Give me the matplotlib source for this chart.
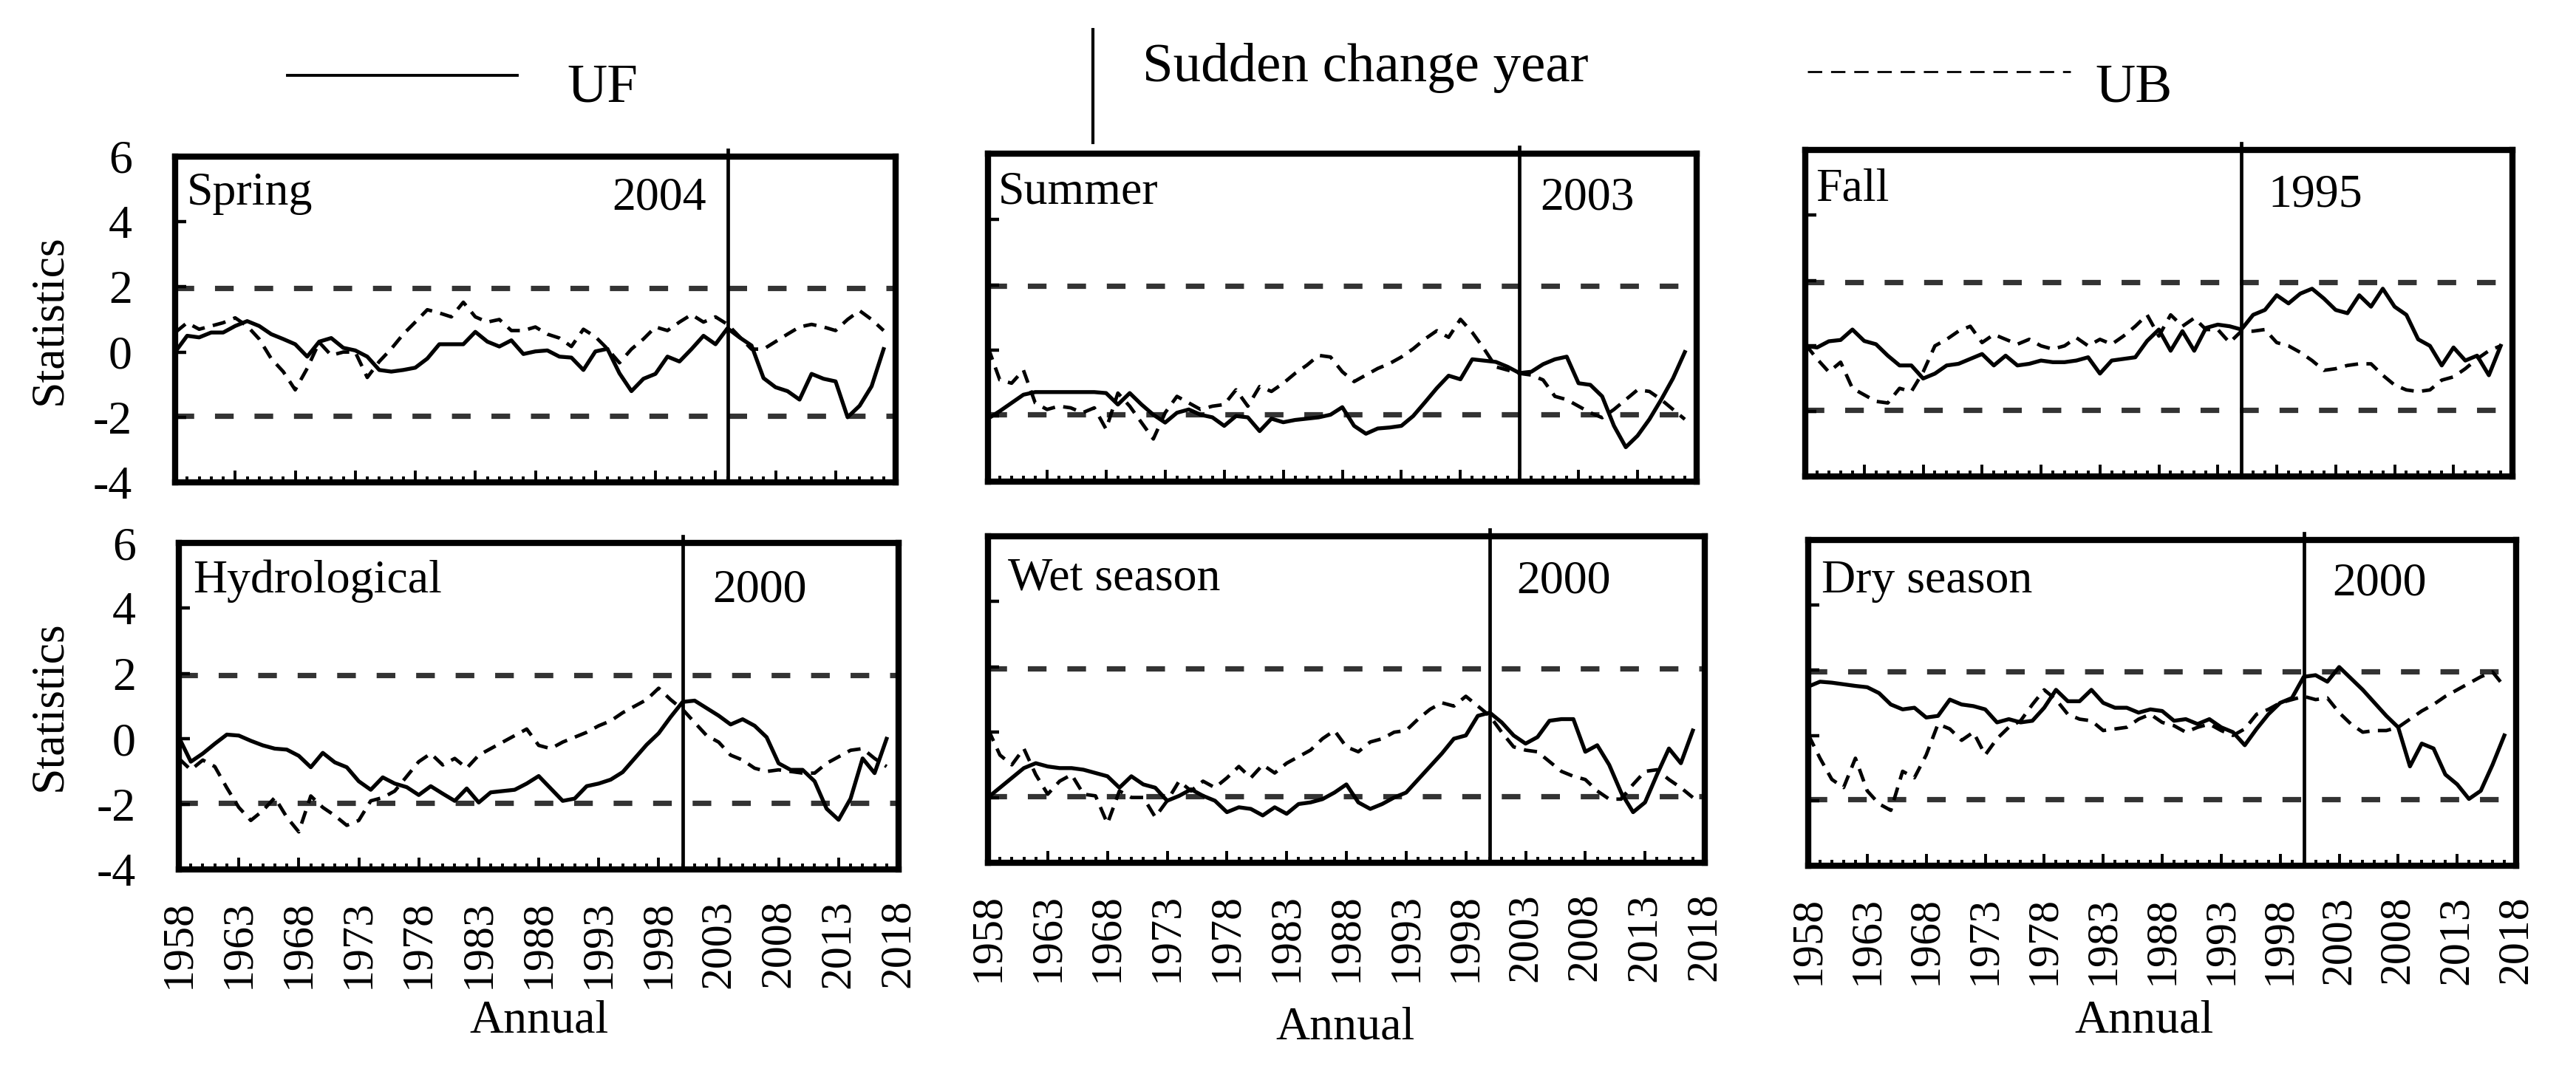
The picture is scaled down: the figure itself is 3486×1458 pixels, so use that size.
import matplotlib
matplotlib.use("Agg")
import matplotlib.pyplot as plt
from matplotlib.lines import Line2D

plt.rcParams["font.family"] = ["Liberation Serif", "DejaVu Serif"]
plt.rcParams["axes.unicode_minus"] = False

W, H = 3487, 1458
DPI = 200

years = list(range(1958, 2018))

spring_uf = [0.0, 0.5, 0.45, 0.6, 0.6, 0.8, 0.95, 0.8, 0.55, 0.4,
             0.24, -0.14, 0.32, 0.43, 0.13, 0.05, -0.14, -0.55, -0.6, -0.55,
             -0.48, -0.2, 0.24, 0.24, 0.24, 0.62, 0.32, 0.17, 0.36, -0.06,
             0.02, 0.05, -0.14, -0.17, -0.55, 0.02, 0.1, -0.65, -1.2, -0.82,
             -0.67, -0.14, -0.29, 0.09, 0.5, 0.24, 0.73, 0.45, 0.2, -0.8,
             -1.08, -1.2, -1.46, -0.67, -0.82, -0.9, -2.0, -1.65, -1.05, 0.09]
spring_ub = [0.6, 0.9, 0.7, 0.8, 0.9, 1.05, 0.8, 0.4, -0.2, -0.6,
             -1.16, -0.5, 0.3, -0.1, 0.0, 0.0, -0.78, -0.29, 0.1, 0.55,
             0.92, 1.3, 1.2, 1.08, 1.53, 1.08, 0.92, 1.0, 0.66, 0.66,
             0.77, 0.55, 0.43, 0.17, 0.7, 0.47, 0.1, -0.33, 0.09, 0.4,
             0.77, 0.66, 0.92, 1.15, 0.92, 1.08, 0.85, 0.47, 0.09, 0.09,
             0.32, 0.55, 0.77, 0.85, 0.77, 0.66, 1.0, 1.27, 1.0, 0.66]

summer_uf = [-2.08, -1.85, -1.6, -1.35, -1.27, -1.27, -1.27, -1.27, -1.27, -1.27,
             -1.3, -1.65, -1.3, -1.65, -1.96, -2.2, -1.9, -1.8, -1.96, -2.04,
             -2.3, -2.0, -2.04, -2.46, -2.08, -2.19, -2.12, -2.08, -2.04, -1.96,
             -1.73, -2.3, -2.54, -2.38, -2.35, -2.3, -2.0, -1.58, -1.15, -0.77,
             -0.88, -0.27, -0.31, -0.35, -0.5, -0.69, -0.65, -0.42, -0.27, -0.19,
             -1.0, -1.05, -1.4, -2.3, -2.95, -2.6, -2.1, -1.5, -0.85, -0.05]
summer_ub = [0.1, -0.9, -1.0, -0.6, -1.6, -1.8, -1.7, -1.75, -1.9, -1.75,
             -2.4, -1.3, -1.7, -2.2, -2.7, -1.9, -1.4, -1.6, -1.8, -1.7,
             -1.65, -1.2, -1.7, -1.1, -1.25, -1.0, -0.7, -0.45, -0.15, -0.2,
             -0.65, -0.95, -0.75, -0.55, -0.4, -0.2, 0.05, 0.35, 0.6, 0.4,
             0.95, 0.55, 0.05, -0.5, -0.6, -0.7, -0.75, -0.9, -1.4, -1.5,
             -1.7, -1.9, -2.05, -1.8, -1.5, -1.2, -1.25, -1.5, -1.8, -2.1]

fall_uf = [0.0, -0.05, 0.14, 0.18, 0.5, 0.15, 0.05, -0.3, -0.6, -0.6,
           -1.0, -0.85, -0.6, -0.55, -0.4, -0.25, -0.6, -0.3, -0.6, -0.55,
           -0.45, -0.5, -0.5, -0.45, -0.35, -0.85, -0.45, -0.4, -0.35, 0.15,
           0.5, -0.15, 0.45, -0.15, 0.55, 0.65, 0.6, 0.5, 0.95, 1.1,
           1.55, 1.3, 1.6, 1.75, 1.45, 1.1, 1.0, 1.55, 1.2, 1.75,
           1.2, 0.95, 0.2, 0.0, -0.6, -0.05, -0.45, -0.3, -0.9, 0.0]
fall_ub = [0.05, -0.4, -0.8, -0.5, -1.3, -1.5, -1.7, -1.75, -1.3, -1.4,
           -0.8, 0.0, 0.2, 0.45, 0.6, 0.1, 0.35, 0.2, 0.05, 0.2,
           0.0, -0.1, 0.0, 0.25, 0.0, 0.2, 0.05, 0.3, 0.6, 0.95,
           0.3, 0.95, 0.6, 0.85, 0.5, 0.5, 0.1, 0.45, 0.45, 0.5,
           0.1, 0.0, -0.2, -0.45, -0.75, -0.7, -0.6, -0.55, -0.55, -0.9,
           -1.2, -1.35, -1.4, -1.35, -1.05, -0.95, -0.7, -0.4, -0.15, 0.0]

hydro_uf = [0.05, -0.7, -0.45, -0.15, 0.13, 0.1, -0.06, -0.2, -0.3, -0.33,
            -0.52, -0.87, -0.43, -0.72, -0.87, -1.3, -1.56, -1.18, -1.37, -1.48,
            -1.72, -1.45, -1.68, -1.9, -1.52, -1.95, -1.64, -1.6, -1.56, -1.37,
            -1.14, -1.52, -1.9, -1.83, -1.45, -1.37, -1.25, -1.02, -0.6, -0.18,
            0.17, 0.67, 1.13, 1.17, 0.94, 0.71, 0.44, 0.6, 0.4, 0.05,
            -0.75, -0.95, -0.95, -1.3, -2.14, -2.48, -1.83, -0.6, -1.05, 0.0]
hydro_ub = [-0.6, -0.95, -0.65, -0.85, -1.5, -2.1, -2.5, -2.2, -1.8, -2.4,
            -2.85, -1.75, -2.1, -2.35, -2.65, -2.5, -1.9, -1.8, -1.6, -1.15,
            -0.7, -0.45, -0.8, -0.6, -0.9, -0.5, -0.3, -0.1, 0.1, 0.3,
            -0.2, -0.3, -0.1, 0.05, 0.2, 0.4, 0.55, 0.8, 1.0, 1.2,
            1.55, 1.2, 0.9, 0.5, 0.1, -0.1, -0.5, -0.65, -0.9, -1.0,
            -0.95, -1.0, -1.05, -1.05, -0.75, -0.55, -0.35, -0.3, -0.6, -0.85]

wet_uf = [-2.0, -1.7, -1.4, -1.1, -0.95, -1.05, -1.1, -1.1, -1.15, -1.25,
          -1.35, -1.7, -1.35, -1.6, -1.7, -2.1, -1.95, -1.75, -1.95, -2.1,
          -2.45, -2.3, -2.35, -2.55, -2.3, -2.5, -2.2, -2.15, -2.05, -1.85,
          -1.6, -2.15, -2.35, -2.2, -2.0, -1.85, -1.45, -1.05, -0.65, -0.2,
          -0.1, 0.5, 0.6, 0.3, -0.1, -0.35, -0.15, 0.35, 0.4, 0.4,
          -0.6, -0.4, -1.0, -1.85, -2.45, -2.15, -1.3, -0.5, -0.95, 0.05]
wet_ub = [0.1, -0.7, -1.0, -0.5, -1.3, -1.9, -1.5, -1.3, -1.9, -1.95,
          -2.8, -1.8, -2.0, -2.0, -2.6, -2.1, -1.5, -1.8, -1.5, -1.7,
          -1.4, -1.05, -1.4, -1.0, -1.25, -0.95, -0.75, -0.55, -0.2, 0.05,
          -0.45, -0.6, -0.3, -0.2, 0.0, 0.05, 0.4, 0.7, 0.9, 0.8,
          1.1, 0.8, 0.5, 0.0, -0.45, -0.55, -0.6, -0.9, -1.2, -1.35,
          -1.45, -1.8, -2.05, -2.05, -1.6, -1.2, -1.15, -1.45, -1.7, -2.0]

dry_uf = [1.5, 1.65, 1.62, 1.57, 1.52, 1.48, 1.3, 0.95, 0.8, 0.85,
          0.55, 0.6, 1.1, 0.95, 0.9, 0.8, 0.4, 0.5, 0.4, 0.45,
          0.85, 1.4, 1.05, 1.05, 1.4, 1.0, 0.85, 0.85, 0.7, 0.8,
          0.75, 0.45, 0.5, 0.35, 0.5, 0.25, 0.1, -0.3, 0.2, 0.65,
          1.0, 1.15, 1.8, 1.85, 1.65, 2.1, 1.75, 1.4, 1.0, 0.6,
          0.25, -0.95, -0.25, -0.4, -1.2, -1.5, -1.95, -1.7, -0.9, 0.0]
dry_ub = [0.03, -0.7, -1.35, -1.6, -0.7, -1.7, -2.1, -2.3, -1.1, -1.3,
          -0.6, 0.35, 0.2, -0.15, 0.1, -0.6, -0.1, 0.25, 0.45, 0.95,
          1.4, 1.1, 0.65, 0.5, 0.45, 0.15, 0.2, 0.25, 0.5, 0.65,
          0.4, 0.3, 0.1, 0.25, 0.35, 0.15, 0.0, 0.2, 0.65, 0.8,
          1.0, 1.1, 1.2, 1.1, 1.15, 0.7, 0.35, 0.1, 0.15, 0.15,
          0.25, 0.5, 0.75, 0.95, 1.2, 1.4, 1.6, 1.8, 1.95, 1.5]

season_names = ["Spring", "Summer", "Fall", "Hydrological", "Wet season", "Dry season"]
change_years = [2004, 2003, 1995, 2000, 2000, 2000]
uf_series = [spring_uf, summer_uf, fall_uf, hydro_uf, wet_uf, dry_uf]
ub_series = [spring_ub, summer_ub, fall_ub, hydro_ub, wet_ub, dry_ub]
threshold = 1.96

# axes boxes in pixels: left, top, right, bottom
BOXES = [
    (237, 212, 1212, 653),
    (1337, 208, 2296, 652),
    (2443, 203, 3400, 645),
    (242, 735, 1216, 1177),
    (1337, 726, 2307, 1168),
    (2447, 731, 3405, 1172),
]
# name label and change-year label (axes fraction, baseline)
NAME_XY = [(0.016, 0.853), (0.014, 0.849), (0.015, 0.844),
           (0.020, 0.848), (0.028, 0.837), (0.019, 0.839)]
YEAR_XY = [(0.606, 0.839), (0.779, 0.831), (0.655, 0.826),
           (0.742, 0.821), (0.737, 0.828), (0.740, 0.832)]
ANNUAL_XY = [None, None, None, (0.501, -0.466), (0.498, -0.505), (0.474, -0.478)]
STAT_X = [-0.174, None, None, -0.179, None, None]

fig = plt.figure(figsize=(W / DPI, H / DPI), dpi=DPI)

for k in range(6):
    l, t, r, b = BOXES[k]
    ax = fig.add_axes([l / W, 1 - b / H, (r - l) / W, (b - t) / H])

    for th in (threshold, -threshold):
        ax.axhline(th, color="#333333", lw=2.6, ls=(0, (3.5, 3.9)), zorder=1)
    ax.plot(years, uf_series[k], color="black", lw=1.9, zorder=3)
    ax.plot(years, ub_series[k], color="black", lw=1.7, ls=(0, (3.8, 2.4)), zorder=3)
    ax.axvline(change_years[k], ymin=0, ymax=1.02, color="black", lw=1.7,
               clip_on=False, zorder=4)

    ax.set_xlim(1958, 2018)
    ax.set_ylim(-4, 6)
    ax.set_xticks(range(1958, 2019, 5))
    ax.set_xticks(range(1958, 2019), minor=True)
    ax.set_yticks(range(-4, 7, 2))
    ax.tick_params(axis="x", which="major", direction="in", length=5.6, width=1.4,
                   pad=14.7, labelsize=21.6, labelrotation=90)
    ax.tick_params(axis="x", which="minor", direction="in", length=3.0, width=1.4)
    ax.tick_params(axis="y", direction="in", length=5.5, width=1.6, pad=21, labelsize=23)
    for s in ax.spines.values():
        s.set_linewidth(3.0)
    if k < 3:
        ax.tick_params(axis="x", labelbottom=False)
    if k % 3:
        ax.tick_params(axis="y", labelleft=False)

    ax.text(*NAME_XY[k], season_names[k], transform=ax.transAxes,
            fontsize=23, ha="left", va="baseline")
    ax.text(*YEAR_XY[k], str(change_years[k]), transform=ax.transAxes,
            fontsize=23, ha="left", va="baseline")
    if STAT_X[k] is not None:
        ax.text(STAT_X[k], 0.5, "Statistics", transform=ax.transAxes, rotation=90,
                fontsize=23, ha="center", va="center")
    if ANNUAL_XY[k] is not None:
        ax.text(*ANNUAL_XY[k], "Annual", transform=ax.transAxes,
                fontsize=23, ha="center", va="center")

# legend row at the top
fig.add_artist(Line2D([389 / W, 700 / W], [1 - 102 / H] * 2, color="black", lw=1.4,
                      transform=fig.transFigure))
fig.text(767 / W, 1 - 138 / H, "UF", fontsize=27, va="baseline")
fig.add_artist(Line2D([1479 / W] * 2, [1 - 40 / H, 1 - 193 / H], color="black", lw=1.5,
                      transform=fig.transFigure))
fig.text(1546 / W, 1 - 110 / H, "Sudden change year", fontsize=27, va="baseline")
fig.add_artist(Line2D([2446 / W, 2802 / W], [1 - 97 / H] * 2, color="black", lw=1.0,
                      ls=(0, (7, 4.3)), transform=fig.transFigure))
fig.text(2835 / W, 1 - 138 / H, "UB", fontsize=27, va="baseline")

fig.savefig("out.png", dpi=DPI)
